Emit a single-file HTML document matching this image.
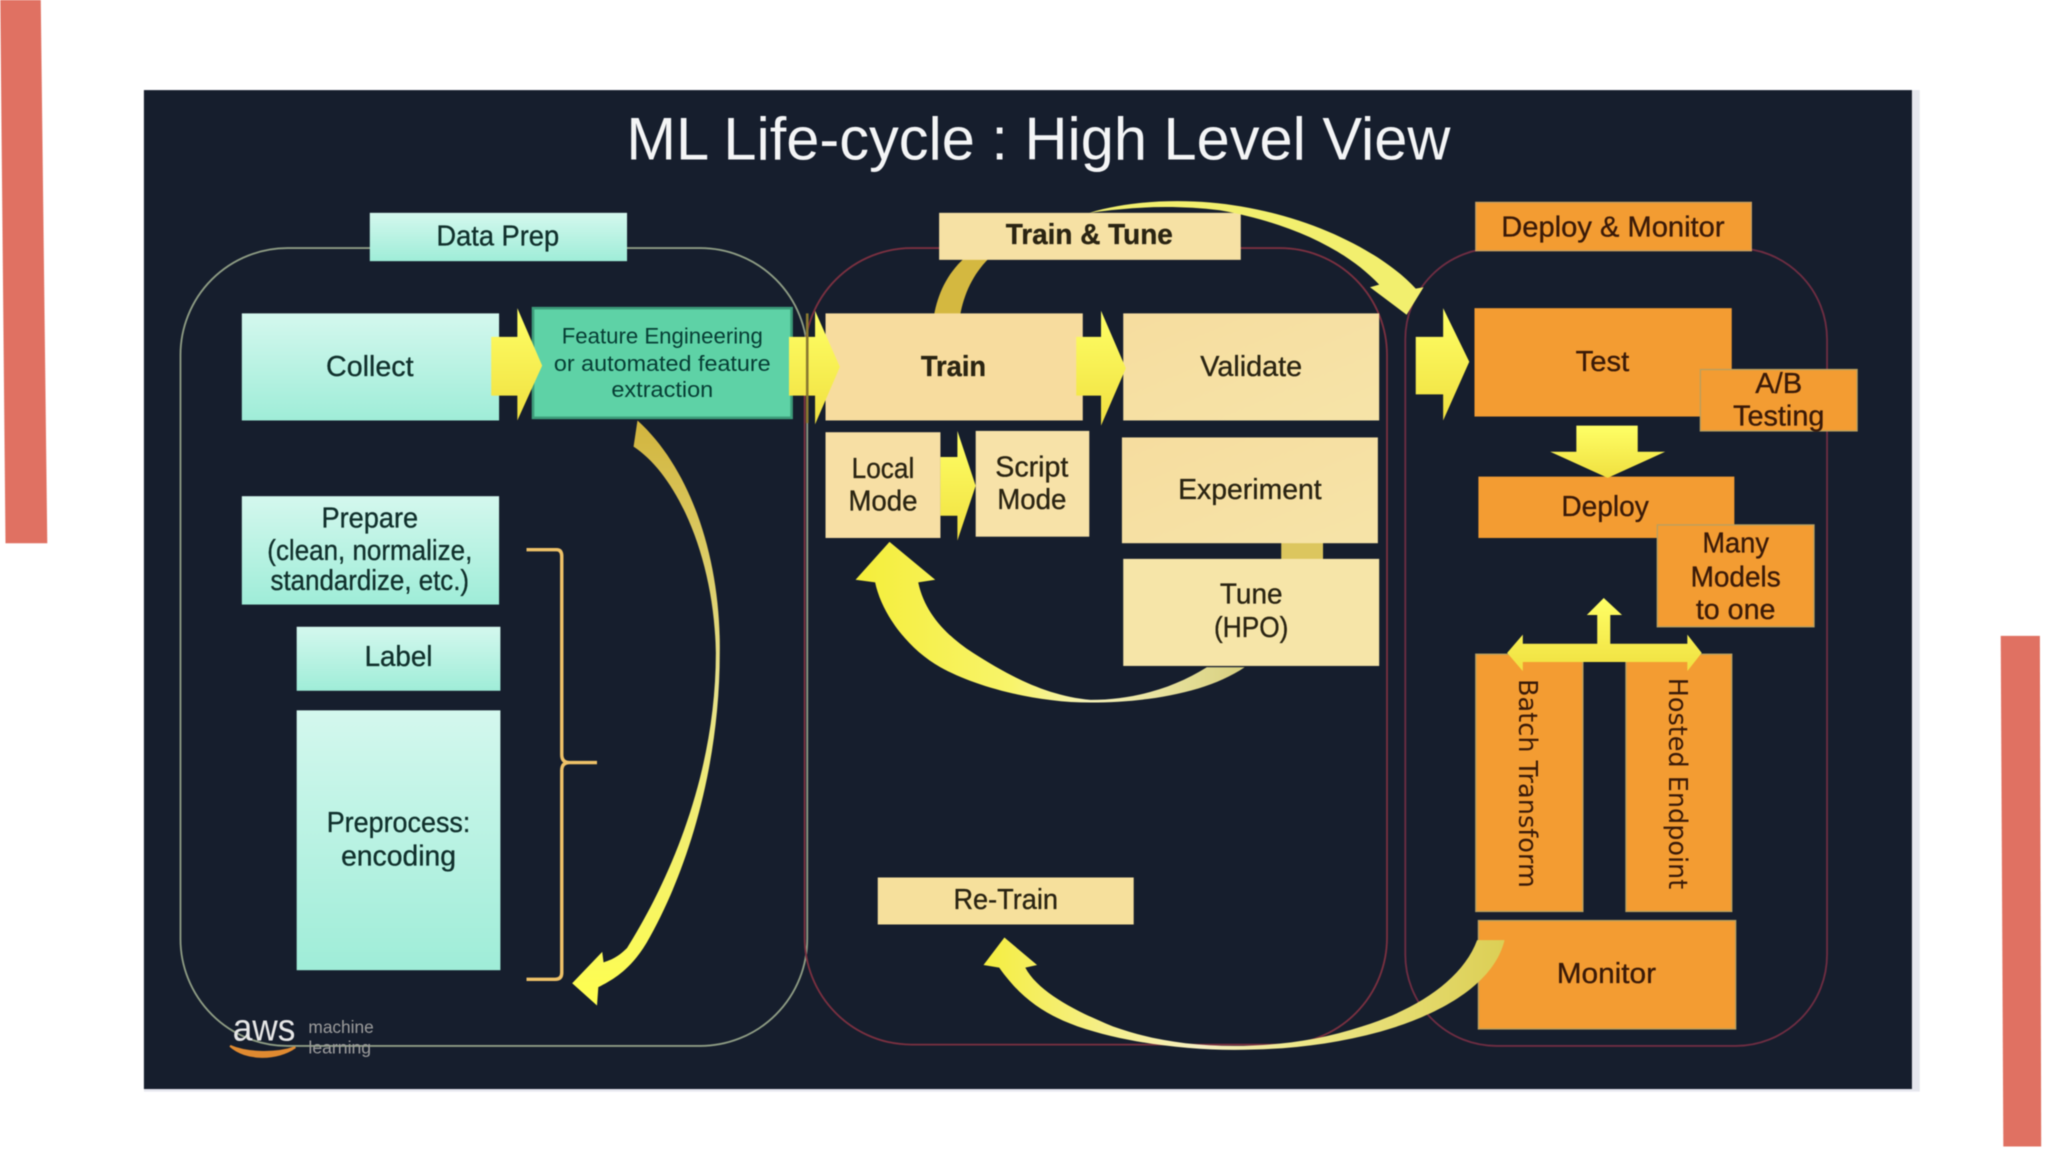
<!DOCTYPE html>
<html><head><meta charset="utf-8"><style>
html,body{margin:0;padding:0;background:#fff;width:2048px;height:1153px;overflow:hidden}
svg{display:block;filter:blur(.6px)}
text{font-family:"Liberation Sans",sans-serif;text-anchor:middle}
.t{fill:#10302c;stroke:#10302c;stroke-width:.25;font-size:22px}.y{fill:#2a2412;stroke:#2a2412;stroke-width:.25;font-size:22px}.o{fill:#3a1a08;stroke:#3a1a08;stroke-width:.25;font-size:22px}
.v{font-family:"DejaVu Sans",sans-serif;text-anchor:start;fill:#3a1a08;font-size:19.5px}
</style></head><body>
<svg width="2048" height="1153" viewBox="0 0 1568 883" xmlns="http://www.w3.org/2000/svg">
<defs>
<linearGradient id="te" x1="0" y1="0" x2="0" y2="1"><stop offset="0" stop-color="#d4f8ee"/><stop offset="1" stop-color="#9fedd8"/></linearGradient>
<linearGradient id="ye" x1="0" y1="0" x2="1" y2="1"><stop offset="0" stop-color="#f6dd9f"/><stop offset="1" stop-color="#f6e4a8"/></linearGradient>
<linearGradient id="ar" x1="0" y1="0" x2="0" y2="1"><stop offset="0" stop-color="#ffff66"/><stop offset="1" stop-color="#f0e040"/></linearGradient>
<linearGradient id="c1" x1="0" y1="0" x2="0" y2="1"><stop offset="0" stop-color="#d2b53e"/><stop offset=".45" stop-color="#e6e08a"/><stop offset="1" stop-color="#ffff50"/></linearGradient>
<linearGradient id="c2" x1="0" y1="0" x2="1" y2="0"><stop offset="0" stop-color="#f5ee3a"/><stop offset=".4" stop-color="#f8f46a"/><stop offset=".6" stop-color="#f6f2b8"/><stop offset="1" stop-color="#d8d080"/></linearGradient>
<linearGradient id="c3" x1="0" y1="0" x2="1" y2="0"><stop offset="0" stop-color="#f5ee40"/><stop offset=".42" stop-color="#f6efc4"/><stop offset=".6" stop-color="#eee88a"/><stop offset="1" stop-color="#dccf55"/></linearGradient>
</defs>
<rect width="1568" height="883" fill="#fff"/>
<polygon points="0,0 31,0 36,416 4,416" fill="#e07162"/>
<polygon points="1532,487 1562,487 1563,878 1534,878" fill="#e07162"/>
<rect x="110" y="69" width="1360" height="767" fill="#e6e7ee"/>
<rect x="110" y="69" width="1354" height="765" fill="#161e2d"/>

<!-- groups -->
<rect x="138" y="190" width="480" height="611" rx="82" fill="none" stroke="#8e9c84" stroke-width="1.4"/>
<rect x="616" y="190" width="446" height="610" rx="82" fill="none" stroke="#7a3040" stroke-width="1.4"/>
<rect x="1076" y="190" width="323" height="611" rx="70" fill="none" stroke="#6e2d42" stroke-width="1.4"/>

<!-- title -->
<text x="795" y="122" font-size="46" fill="#f4f5f6" textLength="631" lengthAdjust="spacingAndGlyphs">ML Life-cycle : High Level View</text>

<!-- top curved arrow rear part -->
<path d="M715,242 L735,242 C738,225 745,210 757,198 L738,198 C725,210 718,225 715,242Z" fill="#d4b840"/>
<rect x="981" y="414" width="32" height="16" fill="#dcc65e"/>

<!-- boxes -->
<g stroke-width="1">
<rect x="283" y="163" width="197" height="37" fill="url(#te)"/>
<rect x="719" y="163" width="231" height="36" fill="#f6e1a4"/>
<rect x="1130" y="155" width="211" height="37" fill="#f39c32" stroke="#c9a060"/>
<rect x="185" y="240" width="197" height="82" fill="url(#te)"/>
<rect x="408" y="236" width="198" height="84" fill="#5ed2a6" stroke="#3d9c7a" stroke-width="2"/>
<rect x="632" y="240" width="197" height="82" fill="#f7dc9e"/>
<rect x="860" y="240" width="196" height="82" fill="url(#ye)"/>
<rect x="1129" y="236" width="197" height="83" fill="#f39c32"/>
<rect x="1302" y="283" width="120" height="47" fill="#f39c32" stroke="#b8a060"/>
<rect x="632" y="331" width="88" height="81" fill="#f7dfa4"/>
<rect x="747" y="330" width="87" height="81" fill="#f7e2a8"/>
<rect x="859" y="335" width="196" height="81" fill="url(#ye)"/>
<rect x="860" y="428" width="196" height="82" fill="#f6e5a8"/>
<rect x="1132" y="365" width="196" height="47" fill="#f39c32"/>
<rect x="1269" y="402" width="120" height="78" fill="#f39c32" stroke="#b8a060"/>
<rect x="1130" y="501" width="82" height="197" fill="#f39c32" stroke="#b8a060"/>
<rect x="1245" y="501" width="81" height="197" fill="#f39c32" stroke="#b8a060"/>
<rect x="1132" y="705" width="197" height="83" fill="#f39c32" stroke="#b8a060"/>
<rect x="672" y="672" width="196" height="36" fill="#f6e09c"/>
<rect x="185" y="380" width="197" height="83" fill="url(#te)"/>
<rect x="227" y="480" width="156" height="49" fill="url(#te)"/>
<rect x="227" y="544" width="156" height="199" fill="url(#te)"/>
</g>

<!-- bracket -->
<path d="M403,421 H426 Q430,421 430,426 V578 Q430,584 436,584 H457 M436,584 Q430,584 430,590 V745 Q430,750 425,750 H403" fill="none" stroke="#efc268" stroke-width="2.6"/>

<!-- block arrows -->
<g fill="url(#ar)">
<polygon points="376,258 396,258 396,236 415,280 396,322 396,303 376,303"/>
<polygon points="604,258 624,258 624,238 643,281 624,325 624,303 604,303"/>
<polygon points="824,258 843,258 843,238 862,282 843,326 843,303 824,303"/>
<polygon points="720,350 733,350 733,330 747,372 733,414 733,395 720,395"/>
<polygon points="1084,258 1105,258 1105,236 1125,277 1105,322 1105,302 1084,302"/>
<polygon points="1207,326 1254,326 1254,346 1275,346 1231,366 1187,346 1207,346"/>
<polygon points="1223,493 1223,471 1215,471 1228,458 1242,471 1233,471 1233,493 1292,493 1292,486 1303,500 1292,514 1292,507 1166,507 1166,514 1154,500 1166,486 1166,493"/>
</g>
<line x1="618" y1="240" x2="618" y2="324" stroke="#8a7a30" stroke-width="2"/>

<!-- curved arrows -->
<path d="M488,322 L485,342 C520,365 547,430 548,500 C548,590 515,670 480,726 C473,733 468,735 462,737 L461,729 L438,753 L457,770 L458,756 C470,750 483,742 495,722 C525,670 551,590 551,500 C552,430 530,360 488,322 Z" fill="url(#c1)"/>
<path d="M953,511 C925,530 880,538 835,538 C790,538 745,525 720,511 C695,497 675,470 670,446 L655,444 L681,415 L716,444 L703,446 C708,470 725,487 745,500 C770,516 800,533 835,536 C870,536 900,526 924,511 Z" fill="url(#c2)"/>
<path d="M1152,720 C1145,750 1110,775 1057,790 C1020,800 985,804 945,804 C905,804 860,798 825,786 C800,777 782,765 765,741 L753,739 L769,718 L794,739 L785,741 C795,760 825,775 852,786 C880,796 910,801 945,801 C975,801 1010,797 1043,786 C1085,773 1120,750 1131,720Z" fill="url(#c3)"/>
<path d="M834,163 C870,152 915,152 950,158 C1010,168 1060,195 1084,221 L1090,220 L1077,241 L1049,220 L1056,218 C1030,190 985,170 934,161 C900,157 870,158 834,163Z" fill="#f2ef6e"/>

<!-- labels -->
<text class="t" x="381" y="188" textLength="94" lengthAdjust="spacingAndGlyphs">Data Prep</text>
<text class="y" x="834" y="187" font-weight="bold" textLength="128" lengthAdjust="spacingAndGlyphs">Train &amp; Tune</text>
<text class="o" x="1235" y="181" textLength="171" lengthAdjust="spacingAndGlyphs">Deploy &amp; Monitor</text>
<text class="t" x="283" y="288" textLength="67" lengthAdjust="spacingAndGlyphs">Collect</text>
<g fill="#063d34" font-size="17">
<text x="507" y="263" textLength="154" lengthAdjust="spacingAndGlyphs">Feature Engineering</text>
<text x="507" y="284" textLength="166" lengthAdjust="spacingAndGlyphs">or automated feature</text>
<text x="507" y="304" textLength="78" lengthAdjust="spacingAndGlyphs">extraction</text>
</g>
<text class="y" x="730" y="288" font-weight="bold" textLength="50" lengthAdjust="spacingAndGlyphs">Train</text>
<text class="y" x="958" y="288" textLength="78" lengthAdjust="spacingAndGlyphs">Validate</text>
<text class="o" x="1227" y="284" textLength="41" lengthAdjust="spacingAndGlyphs">Test</text>
<text class="o" x="1362" y="301" textLength="36" lengthAdjust="spacingAndGlyphs">A/B</text>
<text class="o" x="1362" y="326" textLength="70" lengthAdjust="spacingAndGlyphs">Testing</text>
<text class="y" x="676" y="366" textLength="48" lengthAdjust="spacingAndGlyphs">Local</text>
<text class="y" x="676" y="391" textLength="53" lengthAdjust="spacingAndGlyphs">Mode</text>
<text class="y" x="790" y="365" textLength="56" lengthAdjust="spacingAndGlyphs">Script</text>
<text class="y" x="790" y="390" textLength="53" lengthAdjust="spacingAndGlyphs">Mode</text>
<text class="y" x="957" y="382" textLength="110" lengthAdjust="spacingAndGlyphs">Experiment</text>
<text class="y" x="958" y="462" textLength="48" lengthAdjust="spacingAndGlyphs">Tune</text>
<text class="y" x="958" y="488" textLength="57" lengthAdjust="spacingAndGlyphs">(HPO)</text>
<text class="o" x="1229" y="395" textLength="67" lengthAdjust="spacingAndGlyphs">Deploy</text>
<text class="o" x="1329" y="423" textLength="51" lengthAdjust="spacingAndGlyphs">Many</text>
<text class="o" x="1329" y="449" textLength="69" lengthAdjust="spacingAndGlyphs">Models</text>
<text class="o" x="1329" y="474" textLength="61" lengthAdjust="spacingAndGlyphs">to one</text>
<text class="t" x="283" y="404" textLength="74" lengthAdjust="spacingAndGlyphs">Prepare</text>
<text class="t" x="283" y="429" textLength="157" lengthAdjust="spacingAndGlyphs">(clean, normalize,</text>
<text class="t" x="283" y="452" textLength="152" lengthAdjust="spacingAndGlyphs">standardize, etc.)</text>
<text class="t" x="305" y="510" textLength="52" lengthAdjust="spacingAndGlyphs">Label</text>
<text class="t" x="305" y="637" textLength="110" lengthAdjust="spacingAndGlyphs">Preprocess:</text>
<text class="t" x="305" y="663" textLength="88" lengthAdjust="spacingAndGlyphs">encoding</text>
<text class="y" x="770" y="696" textLength="80" lengthAdjust="spacingAndGlyphs">Re-Train</text>
<text class="o" x="1230" y="753" textLength="76" lengthAdjust="spacingAndGlyphs">Monitor</text>
<text class="v" transform="translate(1163,520) rotate(90)" textLength="160" lengthAdjust="spacingAndGlyphs">Batch Transform</text>
<text class="v" transform="translate(1278,519) rotate(90)" textLength="162" lengthAdjust="spacingAndGlyphs">Hosted Endpoint</text>

<!-- aws logo -->
<text x="202" y="797" font-size="29" fill="#e6e6e6" textLength="48" lengthAdjust="spacingAndGlyphs">aws</text>
<text x="261" y="791" font-size="13.5" fill="#9c9c9c" textLength="50" lengthAdjust="spacingAndGlyphs">machine</text>
<text x="260" y="807" font-size="13.5" fill="#9c9c9c" textLength="48" lengthAdjust="spacingAndGlyphs">learning</text>
<path d="M176,801 C188,812 212,812 226,802 C212,807 190,807 176,801Z" fill="#e08a30" stroke="#e08a30" stroke-width="1.5"/>
</svg>
</body></html>
